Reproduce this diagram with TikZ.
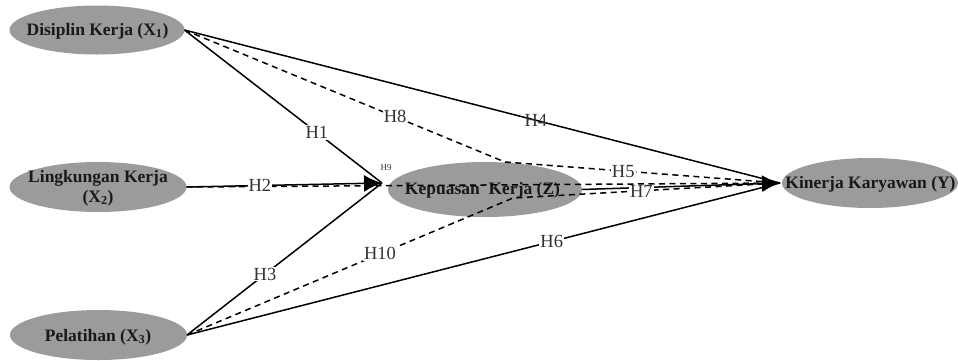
\documentclass[tikz,border=0pt]{standalone}
\usepackage{fontspec}
\setmainfont{Liberation Serif}
\usetikzlibrary{shapes.geometric,arrows.meta}
\definecolor{varfill}{RGB}{155,155,155}
\definecolor{hyptext}{RGB}{50,50,50}
\tikzset{
  varshape/.style={ellipse, fill=varfill, draw=none, inner sep=0pt, outer sep=0pt},
  vartext/.style={font=\fontsize{17.5}{20}\selectfont\bfseries, text=black!90, align=center, inner sep=0pt},
  link/.style={line width=1.5pt, black},
  mlink/.style={link, dash pattern=on 6pt off 4.5pt},
  head/.style={-{Latex[length=18pt,width=17pt]}},
  hyp/.style={font=\fontsize{18.5}{20}\selectfont, text=hyptext, fill=white, inner sep=1pt},
  hypbare/.style={hyp, fill=none},
  hyptiny/.style={font=\fontsize{9}{10}\selectfont, text=hyptext, inner sep=0pt}
}
\begin{document}
\begin{tikzpicture}[x=1pt,y=-1pt]
\useasboundingbox (0,0) rectangle (958,360);

% latent variables
\node[varshape, minimum width=175pt, minimum height=49pt] (X1) at (97,30) {};
\node[varshape, minimum width=177pt, minimum height=50pt] (X2) at (98,187) {};
\node[varshape, minimum width=177pt, minimum height=50pt] (X3) at (98.5,335) {};
\node[varshape, minimum width=194pt, minimum height=55pt] (Z) at (485,189.5) {};
\node[varshape, minimum width=176pt, minimum height=50pt] (Y) at (870,183) {};

\node[vartext] (X1t) at (97.5,31) {Disiplin Kerja (X\textsubscript{1})};
\node[vartext] (X2t) at (98,188) {Lingkungan Kerja\\(X\textsubscript{2})};
\node[vartext] (X3t) at (98,337) {Pelatihan (X\textsubscript{3})};
\node[vartext] (Zt) at (482.5,190) {Kepuasan\ \ Kerja (Z)};
\node[vartext] (Yt) at (870.5,184) {Kinerja Karyawan (Y)};

% arrow meeting points and bends
\coordinate (t1) at (382,183);
\coordinate (t2) at (780,183);
\coordinate (b8) at (505,162);
\coordinate (b10) at (513,198);

% direct paths
\draw[link] (X1.east) -- coordinate[pos=.67] (h1) (t1);
\draw[link, head] (X2.east) -- coordinate[pos=.375] (h2) (t1);
\draw[link] (X3.east) -- coordinate[pos=.40] (h3) (t1);
\draw[link] (X1.east) -- coordinate[pos=.59] (h4) (t2);
\draw[link] (X3.east) -- coordinate[pos=.615] (h6) (t2);
\draw[link, head] (Z.east) -- coordinate[pos=.30] (h7) (t2);

% mediated paths
\draw[mlink] (X1.east) -- coordinate[pos=.657] (h8) (b8) -- coordinate[pos=.43] (h5) (t2);
\draw[mlink] (X2.east) -- (t2);
\draw[mlink] (X3.east) -- coordinate[pos=.592] (h10) (b10) -- (t2);

% hypothesis labels
\node[hyp] (H1) at (h1) {H1};
\node[hyp] (H2) at (h2) {H2};
\node[hyp] (H3) at (h3) {H3};
\node[hypbare] (H4) at (h4) {H4};
\node[hyp] (H5) at (h5) {H5};
\node[hyp] (H6) at (h6) {H6};
\node[hyp, yshift=-4pt] (H7) at (h7) {H7};
\node[hyp] (H8) at (h8) {H8};
\node[hyptiny] (H9) at (386,168) {H9};
\node[hyp] (H10) at (h10) {H10};
\end{tikzpicture}
\end{document}
